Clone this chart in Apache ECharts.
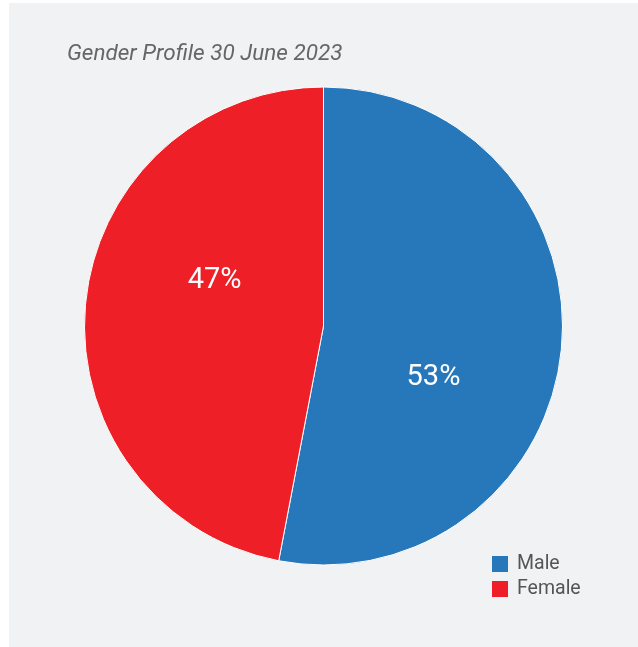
<!DOCTYPE html>
<html>
<head>
<meta charset="utf-8">
<script src="https://cdn.jsdelivr.net/npm/echarts@6/dist/echarts.min.js"></script>
<style>
  html, body { margin: 0; padding: 0; background: #ffffff; }
  #chart { position: absolute; left: 9px; top: 3px; width: 629px; height: 644px; background: #f1f2f4; }
</style>
</head>
<body>
<div id="chart"></div>
<script>
// Gender split of staff as at 30 June 2023 (percent)
const categories = ['Male', 'Female'];
const shares = [53, 47];
const colors = ['#2777bb', '#ee1f26'];
const titleText = 'Gender Profile 30 June 2023';

// nudge each percentage label toward where it sits on the slice
const labelOffsets = [[-12, 40], [13, -34]];

const chart = echarts.init(document.getElementById('chart'), null, { renderer: 'canvas' });

chart.setOption({
  backgroundColor: '#f1f2f4',
  animation: false,
  title: {
    text: titleText,
    left: 53,
    top: 35,
    textStyle: {
      fontFamily: 'Roboto',
      fontStyle: 'italic',
      fontWeight: 'normal',
      fontSize: 22.5,
      color: '#666666'
    }
  },
  legend: {
    orient: 'vertical',
    left: 478,
    top: 546,
    itemWidth: 16,
    itemHeight: 16,
    itemGap: 5,
    icon: 'rect',
    itemStyle: { borderWidth: 0 },
    data: categories,
    textStyle: {
      fontFamily: 'Roboto',
      fontSize: 19.5,
      color: '#555555',
      padding: [0, 0, 0, 4]
    }
  },
  series: [{
    type: 'pie',
    center: [314.5, 323],
    radius: [0, 239],
    startAngle: 90,
    clockwise: true,
    avoidLabelOverlap: false,
    itemStyle: { borderColor: '#ffffff', borderWidth: 1 },
    label: {
      show: true,
      position: 'inside',
      formatter: '{c}%',
      fontFamily: 'Roboto',
      fontWeight: 'normal',
      fontSize: 29,
      color: '#ffffff'
    },
    labelLine: { show: false },
    emphasis: { disabled: true },
    data: categories.map((name, i) => ({
      name: name,
      value: shares[i],
      itemStyle: { color: colors[i] },
      label: { offset: labelOffsets[i] }
    }))
  }]
});
</script>
</body>
</html>
